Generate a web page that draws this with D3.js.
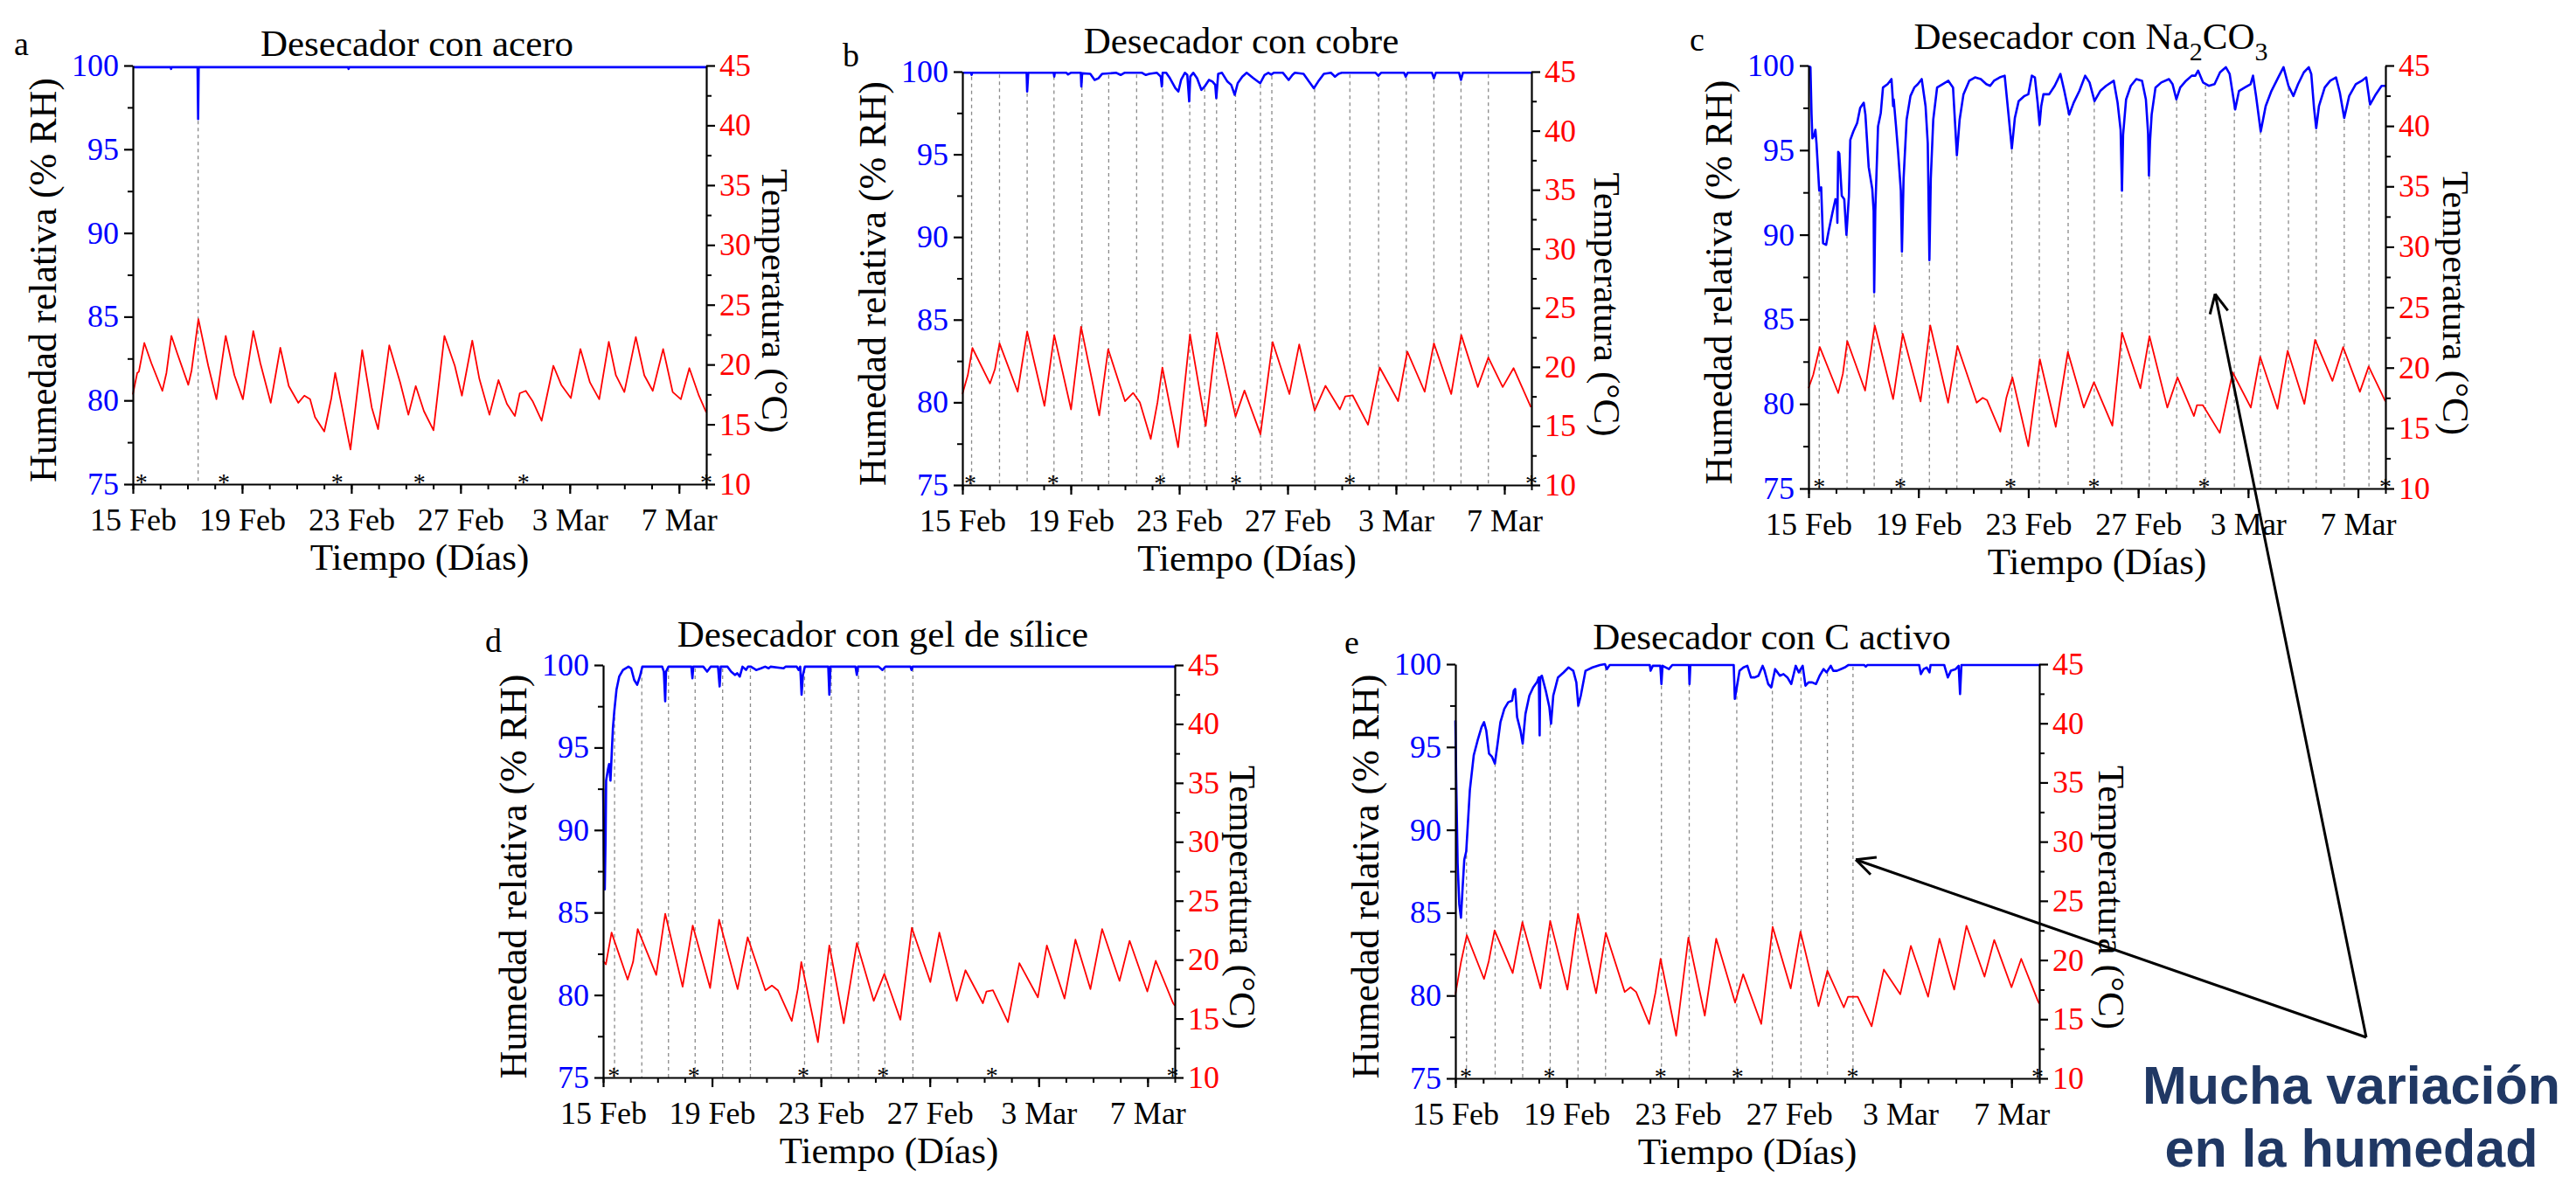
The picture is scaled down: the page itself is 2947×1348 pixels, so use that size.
<!DOCTYPE html>
<html>
<head>
<meta charset="utf-8">
<script src="https://cdn.jsdelivr.net/npm/d3@7"></script>
<style>
  body { margin: 0; background: #fff; }
  text { font-family: "Liberation Serif", "Times New Roman", serif; }
</style>
</head>
<body>
<svg id="fig"></svg>
<script>
// ---- data (day offset from 15 Feb, value) ----
const xTickDays = [0, 4, 8, 12, 16, 20];
const xTickLabels = ['15 Feb', '19 Feb', '23 Feb', '27 Feb', '3 Mar', '7 Mar'];
const xMinorDays = [0,1,2,3,4,5,6,7,8,9,10,11,12,13,14,15,16,17,18,19,20,21];
const rhTicks = [75, 80, 85, 90, 95, 100];
const rhMinorTicks = [77.5, 82.5, 87.5, 92.5, 97.5];
const tempTicks = [10, 15, 20, 25, 30, 35, 40, 45];
const tempMinorTicks = [12.5, 17.5, 22.5, 27.5, 32.5, 37.5, 42.5];

const titles = {
  a: [{t: 'Desecador con acero'}],
  b: [{t: 'Desecador con cobre'}],
  c: [{t: 'Desecador con Na'}, {t: '2', sub: true}, {t: 'CO'}, {t: '3', sub: true}],
  d: [{t: 'Desecador con gel de sílice'}],
  e: [{t: 'Desecador con C activo'}]
};

const rhA = [[0,99.9],[1.38,99.9],[1.4,99.8],[1.42,99.9],[2.37,99.9],[2.39,96.8],[2.41,99.9],[7.88,99.9],[7.9,99.8],[7.92,99.9],[21,99.9]];
const tempA = [[0,17.5],[0.16,19.3],[0.22,19.4],[0.42,21.8],[0.68,20.1],[1.08,17.8],[1.23,19.3],[1.41,22.4],[1.63,20.9],[2.03,18.3],[2.15,19.5],[2.4,23.8],[2.76,19.9],[3.06,17.1],[3.4,22.4],[3.72,19.1],[4.03,17.1],[4.41,22.8],[4.67,20.1],[5.05,16.8],[5.4,21.4],[5.71,18.2],[6.06,16.8],[6.28,17.4],[6.49,17.1],[6.67,15.6],[7.01,14.4],[7.27,17.2],[7.41,19.3],[7.62,16.9],[7.97,12.9],[8.4,21.2],[8.75,16.4],[8.98,14.6],[9.39,21.6],[9.79,18.5],[10.09,15.8],[10.36,18.2],[10.66,16.1],[11.01,14.5],[11.41,22.4],[11.79,19.9],[12.05,17.4],[12.43,22.0],[12.69,18.8],[13.06,15.8],[13.39,18.7],[13.7,16.7],[13.99,15.7],[14.17,17.6],[14.39,17.8],[14.65,16.9],[14.97,15.3],[15.4,19.9],[15.69,18.3],[16.04,17.2],[16.39,21.3],[16.74,18.5],[17.08,17.1],[17.43,21.9],[17.69,19.1],[18.0,17.7],[18.42,22.3],[18.73,19.1],[19.04,17.8],[19.42,21.3],[19.77,17.7],[20.07,17.1],[20.38,19.7],[20.73,17.4],[21,16.0]];
const eventsA = [2.39];
const starsA = [0.31, 3.33, 7.48, 10.49, 14.3, 21.0];

const rhB = [[0,99.93],[0.32,99.93],[0.34,99.8],[0.36,99.93],[2.37,99.93],[2.39,98.8],[2.43,99.93],[3.37,99.93],[3.39,99.7],[3.41,99.93],[3.84,99.93],[3.9,99.83],[4.0,99.93],[4.37,99.93],[4.39,99.1],[4.42,99.9],[4.72,99.87],[4.88,99.5],[5.02,99.6],[5.16,99.87],[5.68,99.93],[5.84,99.8],[5.98,99.93],[6.63,99.93],[6.77,99.8],[6.9,99.87],[7.18,99.93],[7.32,99.7],[7.36,99.1],[7.39,99.93],[7.52,99.93],[7.66,99.6],[7.86,99.0],[7.97,98.8],[8.07,99.5],[8.21,99.93],[8.3,99.8],[8.37,98.2],[8.41,99.7],[8.52,99.93],[8.66,99.6],[8.82,98.9],[8.94,99.1],[9.1,99.5],[9.23,99.4],[9.33,99.2],[9.37,98.4],[9.44,99.87],[9.58,99.93],[9.78,99.4],[9.92,99.2],[10.05,98.6],[10.16,99.3],[10.33,99.7],[10.49,99.93],[10.74,99.6],[10.99,99.3],[11.15,99.8],[11.29,99.93],[11.4,99.82],[11.49,99.93],[11.83,99.93],[12.04,99.5],[12.18,99.8],[12.27,99.93],[12.59,99.87],[12.79,99.4],[12.97,99.0],[13.13,99.4],[13.34,99.87],[13.6,99.93],[13.75,99.7],[13.88,99.87],[14.0,99.93],[15.25,99.93],[15.35,99.75],[15.45,99.93],[16.3,99.93],[16.36,99.7],[16.43,99.93],[17.33,99.93],[17.4,99.6],[17.47,99.93],[18.33,99.93],[18.4,99.5],[18.47,99.93],[21,99.93]];
const tempB = [[0,17.7],[0.2,19.3],[0.37,21.6],[1.02,18.6],[1.2,19.8],[1.37,22.0],[2.04,17.9],[2.39,23.0],[3.03,16.7],[3.39,22.7],[4.01,16.4],[4.38,23.4],[5.05,15.9],[5.38,21.5],[6.0,17.1],[6.3,17.8],[6.55,17.0],[6.95,13.9],[7.2,17.0],[7.38,19.95],[7.96,13.2],[8.4,22.75],[8.98,15.0],[9.39,22.9],[10.08,15.8],[10.41,18.0],[11.0,14.3],[11.45,22.1],[12.07,17.7],[12.43,21.9],[13.0,16.3],[13.4,18.4],[13.93,16.4],[14.13,17.5],[14.4,17.6],[14.97,15.1],[15.4,19.95],[16.08,17.1],[16.42,21.3],[17.06,17.9],[17.4,22.0],[18.04,17.7],[18.41,22.7],[19.02,18.3],[19.41,20.8],[19.94,18.3],[20.34,19.9],[20.98,16.6]];
const eventsB = [0.34,1.37,2.39,3.38,4.41,5.4,6.43,7.39,8.39,8.94,9.38,10.08,11.0,11.42,13.0,14.3,15.36,16.38,17.4,18.4,19.41];
const starsB = [0.29, 3.35, 7.3, 10.1, 14.3, 21.0];

const rhC = [[0,99.97],[0.07,99.9],[0.11,97.1],[0.14,95.7],[0.21,95.9],[0.25,96.2],[0.29,95.4],[0.39,92.6],[0.46,92.8],[0.53,89.5],[0.64,89.4],[0.73,90.2],[0.87,91.3],[0.98,92.1],[1.03,92.0],[1.05,90.7],[1.08,94.9],[1.12,94.8],[1.21,92.3],[1.3,92.1],[1.38,90.0],[1.47,92.3],[1.52,95.6],[1.63,96.1],[1.77,96.6],[1.88,97.5],[2.01,97.8],[2.07,97.1],[2.19,94.0],[2.32,92.7],[2.37,91.4],[2.39,86.6],[2.43,91.4],[2.53,96.4],[2.63,97.2],[2.71,98.7],[2.88,98.9],[3.02,99.2],[3.06,98.2],[3.08,97.6],[3.1,98.0],[3.18,96.5],[3.26,94.9],[3.36,92.6],[3.4,89.0],[3.46,93.3],[3.57,96.8],[3.71,98.2],[3.85,98.7],[3.98,98.9],[4.12,99.2],[4.26,97.6],[4.34,95.4],[4.4,88.5],[4.45,93.3],[4.54,96.8],[4.68,98.7],[4.88,98.9],[5.09,99.1],[5.26,98.7],[5.4,94.7],[5.5,96.8],[5.64,98.3],[5.85,99.1],[6.06,99.3],[6.27,99.2],[6.47,98.9],[6.61,98.8],[6.75,99.1],[6.96,99.3],[7.14,99.4],[7.28,97.1],[7.4,95.1],[7.51,96.9],[7.65,97.9],[7.86,98.2],[8.0,98.3],[8.13,99.4],[8.24,99.3],[8.34,97.8],[8.41,96.5],[8.47,97.6],[8.55,98.3],[8.76,98.3],[8.96,98.8],[9.17,99.5],[9.31,98.5],[9.49,97.1],[9.65,97.8],[9.86,98.5],[10.07,99.4],[10.23,99.0],[10.41,97.9],[10.62,98.5],[10.83,98.8],[11.11,99.1],[11.25,97.8],[11.36,96.2],[11.41,92.6],[11.45,95.9],[11.56,98.0],[11.73,98.8],[11.93,99.2],[12.14,99.1],[12.28,98.0],[12.36,96.0],[12.39,93.5],[12.43,95.5],[12.49,97.1],[12.63,98.7],[12.84,99.0],[13.12,99.2],[13.25,98.9],[13.39,98.0],[13.53,98.7],[13.74,99.1],[13.95,99.4],[14.08,99.4],[14.18,99.7],[14.36,99.0],[14.57,98.8],[14.78,98.9],[14.98,99.6],[15.19,99.9],[15.33,99.5],[15.53,97.4],[15.67,98.5],[15.88,98.7],[16.09,98.9],[16.18,99.4],[16.29,98.2],[16.46,96.1],[16.64,97.6],[16.85,98.5],[17.13,99.4],[17.29,99.9],[17.47,98.8],[17.65,98.2],[17.82,98.9],[18.03,99.6],[18.21,99.9],[18.3,99.5],[18.4,97.5],[18.48,96.3],[18.58,97.6],[18.79,98.7],[18.99,99.1],[19.2,99.3],[19.34,98.4],[19.5,96.9],[19.68,98.2],[19.92,98.9],[20.14,99.1],[20.3,99.3],[20.44,97.7],[20.65,98.3],[20.86,98.8],[21,98.8]];
const tempC = [[0,18.3],[0.17,19.4],[0.41,21.7],[1.08,17.9],[1.25,19.5],[1.41,22.2],[2.06,18.1],[2.41,23.5],[3.08,17.4],[3.43,22.8],[4.08,17.2],[4.43,23.5],[5.08,17.1],[5.42,21.8],[6.12,17.1],[6.34,17.5],[6.5,17.3],[6.98,14.7],[7.2,17.5],[7.42,19.2],[8.0,13.5],[8.42,20.7],[9.0,15.1],[9.44,21.3],[10.02,16.7],[10.39,18.8],[11.06,15.2],[11.41,22.9],[12.08,18.3],[12.41,22.6],[13.06,16.7],[13.43,19.2],[14.03,16.0],[14.14,16.9],[14.35,16.9],[14.97,14.6],[15.44,19.6],[16.1,16.7],[16.44,20.9],[17.07,16.6],[17.44,21.4],[18.05,17.0],[18.44,22.3],[19.07,18.9],[19.46,21.7],[20.07,18.0],[20.39,20.1],[21,17.2]];
const eventsC = [0.39,1.4,2.39,3.4,4.4,5.4,7.4,8.4,9.45,10.4,11.4,12.4,13.4,14.45,15.5,16.45,17.47,18.48,19.5,20.4];
const starsC = [0.39, 3.34, 7.35, 10.39, 14.4, 21.0];

const rhD = [[0,92.5],[0.03,88.5],[0.06,86.4],[0.09,89.5],[0.11,93.0],[0.18,93.7],[0.22,94.0],[0.27,93.0],[0.32,94.8],[0.36,96.2],[0.41,97.2],[0.49,98.5],[0.59,99.3],[0.73,99.7],[0.93,99.9],[1.03,99.8],[1.14,99.1],[1.25,98.8],[1.35,99.3],[1.44,99.9],[2.17,99.9],[2.23,99.6],[2.28,97.8],[2.31,99.6],[2.4,99.9],[3.24,99.9],[3.28,99.2],[3.31,99.9],[3.68,99.9],[3.82,99.6],[3.95,99.9],[4.22,99.9],[4.28,98.7],[4.32,99.9],[4.57,99.9],[4.7,99.6],[4.84,99.4],[4.93,99.5],[5.02,99.3],[5.12,99.9],[5.25,99.7],[5.32,99.9],[5.43,99.9],[5.53,99.8],[5.62,99.7],[5.8,99.8],[5.95,99.9],[6.08,99.8],[6.15,99.9],[6.63,99.8],[6.7,99.9],[7.11,99.9],[7.18,99.7],[7.24,99.9],[7.29,98.2],[7.34,99.4],[7.41,99.9],[8.27,99.9],[8.31,98.2],[8.35,99.9],[9.27,99.9],[9.32,99.4],[9.36,99.9],[10.12,99.9],[10.26,99.7],[10.37,99.9],[11.29,99.9],[11.33,99.7],[11.37,99.9],[21,99.9]];
const tempD = [[0,19.9],[0.1,19.6],[0.31,22.3],[0.9,18.3],[1.1,19.8],[1.27,22.6],[1.95,18.7],[2.28,23.9],[2.92,17.7],[3.29,22.9],[3.93,17.6],[4.26,23.4],[4.94,17.5],[5.31,21.9],[5.96,17.4],[6.2,17.8],[6.42,17.4],[6.93,14.8],[7.15,17.5],[7.28,19.8],[7.89,13.0],[8.31,21.2],[8.84,14.6],[9.32,21.4],[9.94,16.5],[10.33,18.8],[10.92,14.9],[11.34,22.7],[12.02,18.1],[12.35,22.3],[12.99,16.5],[13.31,19.1],[13.95,16.3],[14.08,17.3],[14.32,17.4],[14.87,14.7],[15.29,19.7],[15.97,16.8],[16.3,21.2],[16.95,16.7],[17.35,21.7],[17.9,17.5],[18.33,22.6],[18.97,18.2],[19.34,21.6],[19.99,17.3],[20.3,19.9],[20.94,16.3],[21,16.1]];
const eventsD = [0.42,1.42,2.4,3.38,4.39,5.41,7.4,8.38,9.38,10.35,11.38];
const starsD = [0.39, 3.33, 7.35, 10.28, 14.28, 20.92];

const rhE = [[0,96.6],[0.03,93.0],[0.08,88.0],[0.14,85.5],[0.2,84.7],[0.26,86.5],[0.32,88.2],[0.39,88.7],[0.52,92.4],[0.66,94.5],[0.8,95.4],[0.94,96.2],[1.03,96.5],[1.11,96.0],[1.21,94.6],[1.32,94.4],[1.42,94.0],[1.51,95.1],[1.62,96.5],[1.76,97.3],[1.9,97.7],[2.04,97.8],[2.1,98.4],[2.15,98.5],[2.22,96.8],[2.34,96.0],[2.42,95.2],[2.52,97.0],[2.66,98.1],[2.8,98.6],[2.93,98.9],[3.0,99.2],[3.03,95.7],[3.05,99.2],[3.11,99.3],[3.25,98.4],[3.38,97.4],[3.44,96.4],[3.52,98.1],[3.69,99.2],[3.89,99.5],[4.07,99.8],[4.24,99.6],[4.35,98.9],[4.42,97.5],[4.51,98.1],[4.68,99.6],[4.93,99.8],[5.2,99.95],[5.38,100],[5.45,99.7],[5.55,99.95],[6.99,99.95],[7.02,99.6],[7.1,99.9],[7.37,99.9],[7.41,98.8],[7.45,99.9],[7.68,99.7],[7.8,99.95],[8.4,99.95],[8.42,98.8],[8.45,99.95],[10.01,99.95],[10.05,97.9],[10.12,98.6],[10.22,99.6],[10.36,99.8],[10.5,99.9],[10.63,99.2],[10.77,99.2],[10.9,99.3],[11.05,99.9],[11.12,99.6],[11.25,98.8],[11.36,98.6],[11.5,99.7],[11.67,99.3],[11.8,99.4],[11.94,99.2],[12.08,98.8],[12.24,99.9],[12.35,99.5],[12.49,99.9],[12.59,98.7],[12.7,98.9],[12.83,98.9],[12.97,98.8],[13.1,99.3],[13.24,99.7],[13.35,99.5],[13.5,99.9],[13.59,99.6],[13.72,99.6],[13.86,99.7],[14.0,99.8],[14.14,99.95],[14.7,99.95],[14.76,99.85],[14.82,99.95],[16.68,99.95],[16.74,99.4],[16.84,99.7],[16.95,99.8],[17.05,99.5],[17.09,99.95],[17.58,99.95],[17.71,99.2],[17.82,99.6],[17.99,99.7],[18.1,99.9],[18.15,98.2],[18.2,99.95],[21,99.95]];
const tempE = [[0,17.1],[0.2,19.8],[0.41,22.1],[1.03,18.4],[1.2,19.9],[1.41,22.5],[2.06,18.9],[2.41,23.2],[3.06,17.6],[3.41,23.3],[4.03,17.5],[4.41,23.9],[5.06,17.2],[5.41,22.3],[6.09,17.3],[6.3,17.7],[6.5,17.3],[6.97,14.6],[7.2,17.3],[7.38,20.1],[7.94,13.6],[8.38,21.9],[8.97,15.3],[9.38,21.8],[10.06,16.4],[10.35,18.8],[11.0,14.6],[11.41,22.8],[12.06,17.6],[12.41,22.4],[13.06,16.1],[13.38,19.1],[13.97,16.0],[14.12,16.9],[14.47,16.9],[14.97,14.4],[15.41,19.2],[16.0,17.1],[16.38,21.2],[17.0,16.9],[17.41,21.8],[17.94,17.5],[18.38,22.9],[19.03,18.6],[19.38,21.7],[20.0,17.7],[20.35,20.1],[20.94,16.6],[21,16.3]];
const eventsE = [0.4,1.43,2.42,3.41,4.41,5.4,7.41,8.41,10.12,11.4,12.43,13.38,14.3];
const starsE = [0.38, 3.38, 7.38, 10.15, 14.29, 20.94];

// annotation targets (panel, day, %RH)
const arrowTargets = [['c', 14.8, 86.5], ['e', 14.4, 88.2]];
const noteLines = ['Mucha variación', 'en la humedad'];

function valueAt(series, day){
      const i = d3.bisector(d => d[0]).left(series, day);
      if (i <= 0) return series[0][1];
      if (i >= series.length) return series[series.length - 1][1];
      const a = series[i - 1], b = series[i];
      return a[1] + (b[1] - a[1]) * (day - a[0]) / (b[0] - a[0]);
}

class DualAxisChart{

      constructor(config, data){
            this.config = {
                  parent: config.parent,
                  left: config.left,
                  top: config.top,
                  width: config.width,
                  height: config.height,
                  title: config.title,
                  letter: config.letter,
                  titlePos: config.titlePos,
                  letterPos: config.letterPos,
                  rightDx: config.rightDx || 66
            }
            this.data = data;
            this.init();
      }

      init(){
            let self = this;
            const c = self.config;

            self.chart = c.parent.append('g')
                  .attr('transform', `translate(${c.left}, ${c.top})`);

            self.xscale = d3.scaleLinear().domain([0, 21]).range([0, c.width]);
            self.yrh = d3.scaleLinear().domain([75, 100]).range([c.height, 0]);
            self.ytemp = d3.scaleLinear().domain([10, 45]).range([c.height, 0]);

            self.xaxis = d3.axisBottom(self.xscale)
                  .tickValues(xTickDays)
                  .tickFormat((d, i) => xTickLabels[i])
                  .tickSize(11).tickSizeOuter(0).tickPadding(16);
            self.xminor = d3.axisBottom(self.xscale)
                  .tickValues(xMinorDays).tickFormat('').tickSize(6).tickSizeOuter(0);

            self.yaxis = d3.axisLeft(self.yrh)
                  .tickValues(rhTicks).tickSize(10).tickSizeOuter(0).tickPadding(6);
            self.yminor = d3.axisLeft(self.yrh)
                  .tickValues(rhMinorTicks).tickFormat('').tickSize(6).tickSizeOuter(0);

            self.raxis = d3.axisRight(self.ytemp)
                  .tickValues(tempTicks).tickSize(10).tickSizeOuter(0).tickPadding(5);
            self.rminor = d3.axisRight(self.ytemp)
                  .tickValues(tempMinorTicks).tickFormat('').tickSize(6).tickSizeOuter(0);
      }

      pagePoint(day, rh){
            let self = this;
            return [self.config.left + self.xscale(day), self.config.top + self.yrh(rh)];
      }

      render(){
            let self = this;
            const c = self.config, w = c.width, h = c.height;

            // dashed markers from the RH curve down to the axis
            self.chart.append('g').selectAll('line')
                  .data(self.data.events)
                  .join('line')
                  .attr('x1', d => self.xscale(d))
                  .attr('x2', d => self.xscale(d))
                  .attr('y1', d => self.yrh(valueAt(self.data.rh, d)) + 2)
                  .attr('y2', h)
                  .attr('stroke', '#8a8a8a')
                  .attr('stroke-width', 1.3)
                  .attr('stroke-dasharray', '4,4');

            const tline = d3.line().x(d => self.xscale(d[0])).y(d => self.ytemp(d[1]));
            const rline = d3.line().x(d => self.xscale(d[0])).y(d => self.yrh(d[1]));

            self.chart.append('path')
                  .datum(self.data.temp)
                  .attr('d', tline)
                  .attr('fill', 'none')
                  .attr('stroke', '#ff0000')
                  .attr('stroke-width', 1.8)
                  .attr('stroke-linejoin', 'round');

            self.chart.append('path')
                  .datum(self.data.rh)
                  .attr('d', rline)
                  .attr('fill', 'none')
                  .attr('stroke', '#0000ff')
                  .attr('stroke-width', 2.6)
                  .attr('stroke-linejoin', 'round');

            self.chart.append('g').selectAll('text')
                  .data(self.data.stars)
                  .join('text')
                  .attr('x', d => self.xscale(d))
                  .attr('y', h + 7)
                  .attr('text-anchor', 'middle')
                  .attr('fill', '#000')
                  .style('font-size', '28px')
                  .text('*');

            // axes
            const styleAxis = (g, color) => {
                  g.select('.domain').attr('stroke', '#000').attr('stroke-width', 2.2);
                  g.selectAll('.tick line').attr('stroke', '#000').attr('stroke-width', 2.2);
                  g.selectAll('.tick text')
                        .attr('fill', color)
                        .style('font-size', '36px')
                        .style('font-family', '"Liberation Serif", serif');
            };

            const gx = self.chart.append('g').attr('transform', `translate(0, ${h})`);
            gx.call(self.xminor); gx.select('.domain').remove();
            gx.selectAll('.tick line').attr('stroke', '#000').attr('stroke-width', 2);
            const gxm = self.chart.append('g').attr('transform', `translate(0, ${h})`).call(self.xaxis);
            styleAxis(gxm, '#000');

            const gy = self.chart.append('g').call(self.yminor);
            gy.select('.domain').remove();
            gy.selectAll('.tick line').attr('stroke', '#000').attr('stroke-width', 2);
            styleAxis(self.chart.append('g').call(self.yaxis), '#0000ff');

            const gr = self.chart.append('g').attr('transform', `translate(${w}, 0)`).call(self.rminor);
            gr.select('.domain').remove();
            gr.selectAll('.tick line').attr('stroke', '#000').attr('stroke-width', 2);
            styleAxis(self.chart.append('g').attr('transform', `translate(${w}, 0)`).call(self.raxis), '#ff0000');

            // axis titles
            self.chart.append('text')
                  .attr('text-anchor', 'middle')
                  .attr('transform', `translate(-88, ${h / 2 + 6}) rotate(-90)`)
                  .style('font-size', '44px')
                  .text('Humedad relativa (% RH)');

            self.chart.append('text')
                  .attr('text-anchor', 'middle')
                  .attr('transform', `translate(${w + c.rightDx}, ${h / 2 + 30}) rotate(90)`)
                  .style('font-size', '43px')
                  .text('Temperatura (°C)');

            self.chart.append('text')
                  .attr('text-anchor', 'middle')
                  .attr('x', w / 2)
                  .attr('y', h + 98)
                  .style('font-size', '43px')
                  .text('Tiempo (Días)');

            // panel title and letter (absolute positions)
            const t = c.parent.append('text')
                  .attr('text-anchor', 'middle')
                  .attr('x', c.titlePos[0])
                  .attr('y', c.titlePos[1])
                  .style('font-size', '43px');
            let shifted = false;
            c.title.forEach(p => {
                  const dy = p.sub ? (shifted ? 0 : 13) : (shifted ? -13 : 0);
                  shifted = !!p.sub;
                  t.append('tspan')
                        .attr('dy', dy)
                        .style('font-size', p.sub ? '30px' : '43px')
                        .text(p.t);
            });

            c.parent.append('text')
                  .attr('x', c.letterPos[0])
                  .attr('y', c.letterPos[1])
                  .style('font-size', '38px')
                  .text(c.letter);
      }
}

const W = 2947, H = 1348;
const svg = d3.select('#fig').attr('width', W).attr('height', H);
svg.append('rect').attr('width', W).attr('height', H).attr('fill', '#fff');

const layout = [
      {id: 'a', left: 152, top: 75, width: 656, height: 479, titlePos: [477, 64], letterPos: [16, 63], rightDx: 64},
      {id: 'b', left: 1101, top: 82, width: 651, height: 473, titlePos: [1420, 61], letterPos: [964, 76], rightDx: 72},
      {id: 'c', left: 2069, top: 75, width: 660, height: 484, titlePos: [2392, 56], letterPos: [1933, 58], rightDx: 66},
      {id: 'd', left: 690, top: 761, width: 654, height: 472, titlePos: [1010, 740], letterPos: [555, 746], rightDx: 63},
      {id: 'e', left: 1665, top: 760, width: 668, height: 474, titlePos: [2027, 743], letterPos: [1538, 748], rightDx: 68}
];

const panelData = {
      a: {rh: rhA, temp: tempA, events: eventsA, stars: starsA},
      b: {rh: rhB, temp: tempB, events: eventsB, stars: starsB},
      c: {rh: rhC, temp: tempC, events: eventsC, stars: starsC},
      d: {rh: rhD, temp: tempD, events: eventsD, stars: starsD},
      e: {rh: rhE, temp: tempE, events: eventsE, stars: starsE}
};

const charts = {};
layout.forEach(l => {
      const chart = new DualAxisChart({
            parent: svg,
            left: l.left, top: l.top, width: l.width, height: l.height,
            title: titles[l.id], letter: l.id,
            titlePos: l.titlePos, letterPos: l.letterPos, rightDx: l.rightDx
      }, panelData[l.id]);
      chart.render();
      charts[l.id] = chart;
});

// annotation: arrows converge on a point above the note
const hub = [2707, 1187];
const ann = svg.append('g').attr('stroke', '#000').attr('stroke-width', 3).attr('fill', 'none');
arrowTargets.forEach(tg => {
      const p = charts[tg[0]].pagePoint(tg[1], tg[2]);
      ann.append('line').attr('x1', hub[0]).attr('y1', hub[1]).attr('x2', p[0]).attr('y2', p[1]);
      const ang = Math.atan2(hub[1] - p[1], hub[0] - p[0]);
      [-0.45, 0.45].forEach(da => {
            ann.append('line')
                  .attr('x1', p[0]).attr('y1', p[1])
                  .attr('x2', p[0] + 24 * Math.cos(ang + da))
                  .attr('y2', p[1] + 24 * Math.sin(ang + da));
      });
});

svg.append('g').selectAll('text')
      .data(noteLines)
      .join('text')
      .attr('x', 2690)
      .attr('y', (d, i) => 1263 + i * 72)
      .attr('text-anchor', 'middle')
      .attr('fill', '#203864')
      .style('font-family', '"Liberation Sans", Arial, sans-serif')
      .style('font-weight', 'bold')
      .style('font-size', '61px')
      .text(d => d);
</script>
</body>
</html>
